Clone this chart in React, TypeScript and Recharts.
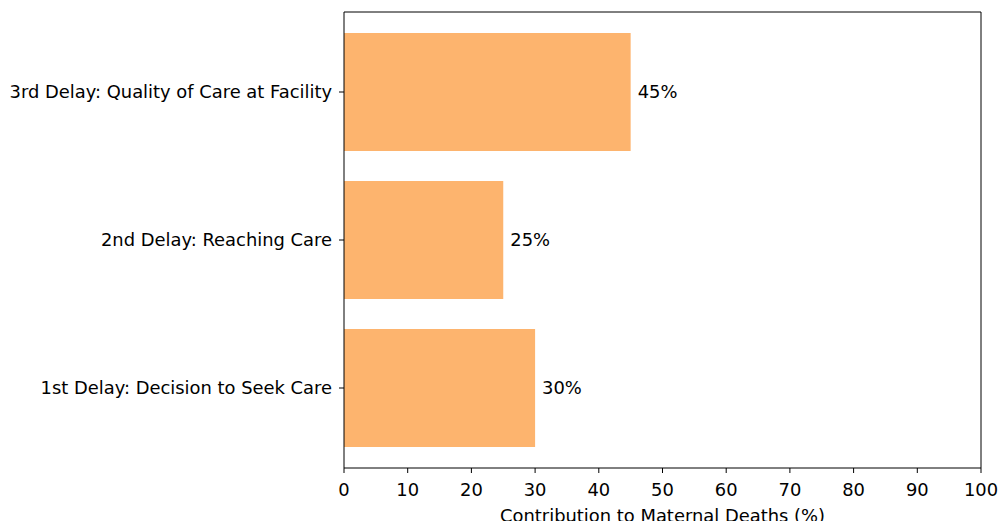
import { BarChart, Bar, XAxis, YAxis, LabelList } from 'recharts'

const delays = [
  '3rd Delay: Quality of Care at Facility',
  '2nd Delay: Reaching Care',
  '1st Delay: Decision to Seek Care',
]
const shares = [45, 25, 30]
const xTicks = [0, 10, 20, 30, 40, 50, 60, 70, 80, 90, 100]

const data = delays.map((d, i) => ({ delay: d, share: shares[i] }))

const font = { fontFamily: 'DejaVu Sans', fontSize: 17.9, fill: '#000' }

export default function App() {
  return (
    <div style={{ position: 'absolute', top: 0, left: 0, background: '#fff' }}>
      <BarChart
        width={1000}
        height={521}
        data={data}
        layout="vertical"
        margin={{ top: 11, right: 18, bottom: 0, left: 0 }}
        barSize={118}
      >
        <XAxis
          type="number"
          domain={[0, 100]}
          ticks={xTicks}
          interval={0}
          tickSize={5}
          tickMargin={10}
          tick={font}
          stroke="#000"
          height={53}
          label={{ value: 'Contribution to Maternal Deaths (%)', position: 'insideBottom', offset: -1, style: font }}
        />
        <XAxis xAxisId="top" orientation="top" type="number" domain={[0, 100]} tick={false} tickLine={false} height={1} stroke="#000" />
        <YAxis
          type="category"
          dataKey="delay"
          width={344}
          tickSize={5}
          tickMargin={7}
          tick={font}
          stroke="#000"
          padding={{ top: 6, bottom: 6 }}
        />
        <YAxis yAxisId="right" orientation="right" type="category" dataKey="delay" tick={false} tickLine={false} width={1} stroke="#000" />
        <Bar dataKey="share" fill="#fdb46e" isAnimationActive={false}>
          <LabelList dataKey="share" position="right" offset={7} formatter={(v: any) => `${v}%`} style={font} />
        </Bar>
      </BarChart>
    </div>
  )
}
